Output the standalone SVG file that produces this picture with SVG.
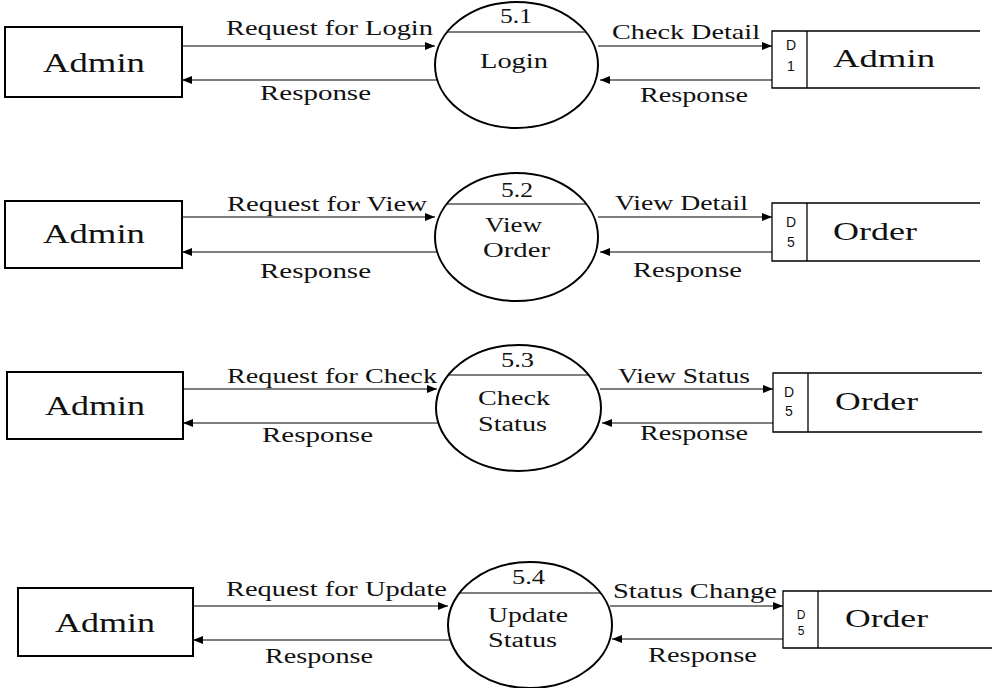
<svg xmlns="http://www.w3.org/2000/svg" width="992" height="688" viewBox="0 0 992 688" font-family="'Liberation Serif', 'DejaVu Serif', serif">
<defs>
<marker id="ah" markerWidth="10" markerHeight="8" refX="10" refY="4" orient="auto" markerUnits="userSpaceOnUse">
<path d="M0,0 L10,4 L0,8 Z" fill="#000"/>
</marker>
<style>
.box{fill:#fff;stroke:#000;stroke-width:2}
.proc{fill:#fff;stroke:#000;stroke-width:2}
.div{stroke:#000;stroke-width:1.2;fill:none}
.store{fill:none;stroke:#000;stroke-width:1.3}
.flow{stroke:#000;stroke-width:1.2;fill:none;marker-end:url(#ah)}
.t{font-family:'Liberation Serif','DejaVu Serif',serif;fill:#111}
.big{font-size:27px}
.lbl{font-size:21px}
.pt{font-size:20px}
.st{font-size:25px}
.sid{font-family:'Liberation Sans','DejaVu Sans',sans-serif;font-size:14px;text-anchor:middle;fill:#111}
</style>
</defs>
<rect width="992" height="688" fill="#fff"/>

<!-- Row 1 -->
<g id="ext1">
<rect class="box" x="5" y="27" width="177" height="70"/>
<text class="t big" x="43" y="72" textLength="102" lengthAdjust="spacingAndGlyphs">Admin</text>
</g>
<g id="p51">
<ellipse class="proc" cx="516.5" cy="65" rx="81.5" ry="63"/>
<line class="div" x1="447" y1="32" x2="586" y2="32"/>
<text class="t pt" x="500" y="23" textLength="32" lengthAdjust="spacingAndGlyphs">5.1</text>
<text class="t pt" x="480" y="68" textLength="68" lengthAdjust="spacingAndGlyphs">Login</text>
</g>
<g id="ds1">
<path class="store" d="M980,31 H772 V88 H980"/>
<line class="store" x1="807" y1="31" x2="807" y2="88"/>
<text class="sid" x="791" y="50">D</text>
<text class="sid" x="791" y="71">1</text>
<text class="t st" x="833" y="67" textLength="102" lengthAdjust="spacingAndGlyphs">Admin</text>
</g>

<!-- Row 2 -->
<g id="ext2">
<rect class="box" x="5" y="201" width="177" height="67"/>
<text class="t big" x="43" y="243" textLength="102" lengthAdjust="spacingAndGlyphs">Admin</text>
</g>
<g id="p52">
<ellipse class="proc" cx="516.5" cy="237" rx="81.5" ry="64"/>
<line class="div" x1="447" y1="204" x2="586" y2="204"/>
<text class="t pt" x="501" y="197" textLength="32" lengthAdjust="spacingAndGlyphs">5.2</text>
<text class="t pt" x="485" y="232" textLength="57" lengthAdjust="spacingAndGlyphs">View</text>
<text class="t pt" x="483" y="257" textLength="67" lengthAdjust="spacingAndGlyphs">Order</text>
</g>
<g id="ds2">
<path class="store" d="M980,203 H772 V261 H980"/>
<line class="store" x1="807" y1="203" x2="807" y2="261"/>
<text class="sid" x="791" y="227">D</text>
<text class="sid" x="791" y="247">5</text>
<text class="t st" x="833" y="240" textLength="84" lengthAdjust="spacingAndGlyphs">Order</text>
</g>

<!-- Row 3 -->
<g id="ext3">
<rect class="box" x="7" y="372" width="176" height="67"/>
<text class="t big" x="45" y="415" textLength="100" lengthAdjust="spacingAndGlyphs">Admin</text>
</g>
<g id="p53">
<ellipse class="proc" cx="518.5" cy="408" rx="82.5" ry="63"/>
<line class="div" x1="448" y1="375" x2="589" y2="375"/>
<text class="t pt" x="501" y="367" textLength="33" lengthAdjust="spacingAndGlyphs">5.3</text>
<text class="t pt" x="478" y="405" textLength="72" lengthAdjust="spacingAndGlyphs">Check</text>
<text class="t pt" x="478" y="431" textLength="69" lengthAdjust="spacingAndGlyphs">Status</text>
</g>
<g id="ds3">
<path class="store" d="M982,373 H773 V432 H982"/>
<line class="store" x1="808" y1="373" x2="808" y2="432"/>
<text class="sid" x="789" y="397">D</text>
<text class="sid" x="789" y="416">5</text>
<text class="t st" x="835" y="410" textLength="83" lengthAdjust="spacingAndGlyphs">Order</text>
</g>

<!-- Row 4 -->
<g id="ext4">
<rect class="box" x="18" y="588" width="175" height="68"/>
<text class="t big" x="55" y="632" textLength="100" lengthAdjust="spacingAndGlyphs">Admin</text>
</g>
<g id="p54">
<ellipse class="proc" cx="530" cy="625" rx="82" ry="63"/>
<line class="div" x1="459" y1="593" x2="601" y2="593"/>
<text class="t pt" x="512" y="584" textLength="33" lengthAdjust="spacingAndGlyphs">5.4</text>
<text class="t pt" x="488" y="622" textLength="80" lengthAdjust="spacingAndGlyphs">Update</text>
<text class="t pt" x="488" y="647" textLength="69" lengthAdjust="spacingAndGlyphs">Status</text>
</g>
<g id="ds4">
<path class="store" d="M992,591 H783 V648 H992"/>
<line class="store" x1="818" y1="591" x2="818" y2="648"/>
<text class="sid" x="801" y="619" style="font-size:12px">D</text>
<text class="sid" x="801" y="635" style="font-size:12px">5</text>
<text class="t st" x="845" y="627" textLength="83" lengthAdjust="spacingAndGlyphs">Order</text>
</g>

<!-- Connectors -->
<g id="connectors">
<line class="flow" x1="182" y1="46" x2="435" y2="46"/>
<line class="flow" x1="437" y1="80" x2="182" y2="80"/>
<line class="flow" x1="598" y1="46" x2="772" y2="46"/>
<line class="flow" x1="772" y1="80" x2="600" y2="80"/>

<line class="flow" x1="182" y1="217" x2="435" y2="217"/>
<line class="flow" x1="437" y1="252" x2="182" y2="252"/>
<line class="flow" x1="598" y1="217" x2="772" y2="217"/>
<line class="flow" x1="772" y1="252" x2="600" y2="252"/>

<line class="flow" x1="183" y1="389" x2="437" y2="389"/>
<line class="flow" x1="438" y1="423" x2="183" y2="423"/>
<line class="flow" x1="600" y1="389" x2="773" y2="389"/>
<line class="flow" x1="773" y1="423" x2="602" y2="423"/>

<line class="flow" x1="193" y1="606" x2="448" y2="606"/>
<line class="flow" x1="450" y1="640" x2="193" y2="640"/>
<line class="flow" x1="610" y1="606" x2="783" y2="606"/>
<line class="flow" x1="783" y1="639" x2="612" y2="639"/>
</g>

<!-- Flow labels -->
<g id="labels">
<text class="t lbl" x="226" y="35" textLength="207" lengthAdjust="spacingAndGlyphs">Request for Login</text>
<text class="t lbl" x="260" y="100" textLength="111" lengthAdjust="spacingAndGlyphs">Response</text>
<text class="t lbl" x="612" y="39" textLength="148" lengthAdjust="spacingAndGlyphs">Check Detail</text>
<text class="t lbl" x="640" y="102" textLength="108" lengthAdjust="spacingAndGlyphs">Response</text>

<text class="t lbl" x="227" y="211" textLength="200" lengthAdjust="spacingAndGlyphs">Request for View</text>
<text class="t lbl" x="260" y="278" textLength="111" lengthAdjust="spacingAndGlyphs">Response</text>
<text class="t lbl" x="615" y="210" textLength="133" lengthAdjust="spacingAndGlyphs">View Detail</text>
<text class="t lbl" x="633" y="277" textLength="109" lengthAdjust="spacingAndGlyphs">Response</text>

<text class="t lbl" x="227" y="383" textLength="210" lengthAdjust="spacingAndGlyphs">Request for Check</text>
<text class="t lbl" x="262" y="442" textLength="111" lengthAdjust="spacingAndGlyphs">Response</text>
<text class="t lbl" x="618" y="383" textLength="132" lengthAdjust="spacingAndGlyphs">View Status</text>
<text class="t lbl" x="640" y="440" textLength="108" lengthAdjust="spacingAndGlyphs">Response</text>

<text class="t lbl" x="226" y="596" textLength="221" lengthAdjust="spacingAndGlyphs">Request for Update</text>
<text class="t lbl" x="265" y="663" textLength="108" lengthAdjust="spacingAndGlyphs">Response</text>
<text class="t lbl" x="613" y="598" textLength="164" lengthAdjust="spacingAndGlyphs">Status Change</text>
<text class="t lbl" x="648" y="662" textLength="109" lengthAdjust="spacingAndGlyphs">Response</text>
</g>
</svg>
